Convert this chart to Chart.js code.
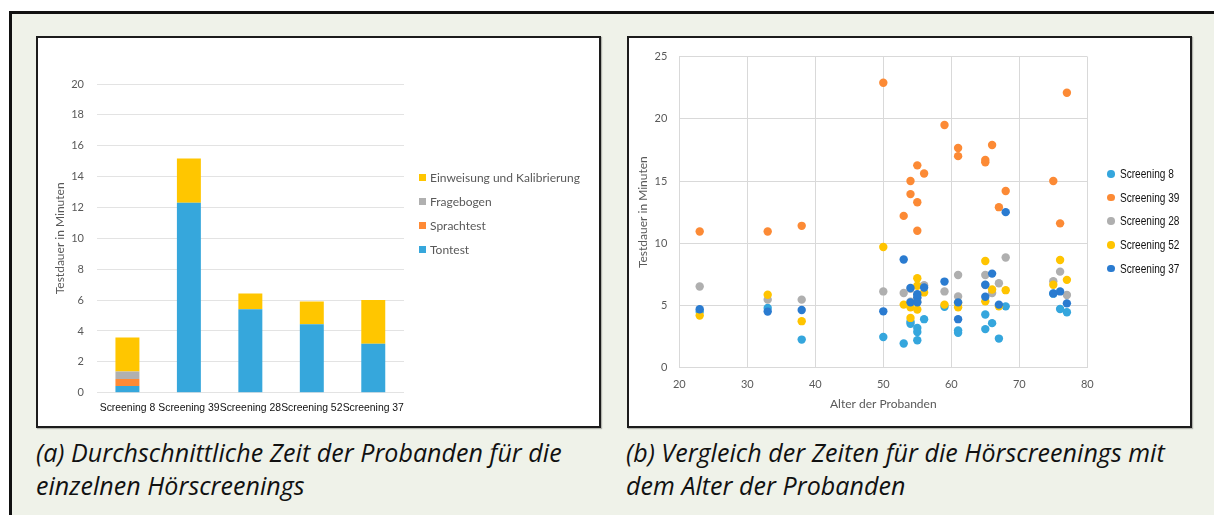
<!DOCTYPE html>
<html><head><meta charset="utf-8">
<script src="https://cdn.jsdelivr.net/npm/chart.js@4.4.0/dist/chart.umd.min.js"></script>
<style>
html,body{margin:0;padding:0;width:1214px;height:515px;overflow:hidden;background:#fff;}
#frame{position:absolute;left:9px;top:11px;width:1300px;height:600px;border:3px solid #111;background:#EFF2E9;box-sizing:border-box;}
.panel{position:absolute;background:#fff;border:2px solid #1c1c1c;box-sizing:border-box;box-shadow:1px 1px 1px rgba(0,0,0,0.25);}
#pa{left:36px;top:36px;width:565px;height:392px;}
#pb{left:627px;top:36px;width:565px;height:392px;}
canvas{position:absolute;left:0;top:0;}
.cap{position:absolute;font-family:"Open Sans",Lato,sans-serif;font-style:italic;font-size:25px;line-height:33px;color:#111;white-space:nowrap;letter-spacing:0.05px;}
#capa{left:36px;top:436px;}
#capb{left:626px;top:436px;}
#la{position:absolute;left:419px;top:165px;font:12px Lato,sans-serif;color:#595959;}
#la .lrow{height:24px;display:flex;align-items:center;white-space:nowrap;}
#la .mk{width:7px;height:7px;margin-right:4px;}
#lb{position:absolute;left:1107px;top:162px;font:12px "Liberation Sans",Arial,sans-serif;color:#111;}
#lb .lrow{height:23.7px;display:flex;align-items:center;white-space:nowrap;}
#lb .mk{width:7.6px;height:7.6px;border-radius:50%;margin-right:5.4px;flex:none;}
#lb .tx{display:inline-block;transform:scaleX(0.84);transform-origin:0 50%;}
</style></head>
<body>
<div id="frame"></div>
<div class="panel" id="pa"><canvas id="ca" width="561" height="388"></canvas></div>
<div class="panel" id="pb"><canvas id="cb" width="561" height="388"></canvas></div>
<div id="la"></div>
<div id="lb"></div>
<div class="cap" id="capa">(a) Durchschnittliche Zeit der Probanden für die<br>einzelnen Hörscreenings</div>
<div class="cap" id="capb">(b) Vergleich der Zeiten für die Hörscreenings mit<br>dem Alter der Probanden</div>
<script>
// ---- Panel (a): stacked bars ----
const categories = ['Screening 8', 'Screening 39', 'Screening 28', 'Screening 52', 'Screening 37'];
const tontest    = [0.44, 12.3, 5.41, 4.43, 3.17];
const sprachtest = [0.45, 0, 0, 0, 0];
const fragebogen = [0.48, 0, 0, 0, 0];
const einweisung = [2.2, 2.87, 1.02, 1.48, 2.83];
const barSeriesNames = ['Tontest', 'Sprachtest', 'Fragebogen', 'Einweisung und Kalibrierung'];

// ---- Panel (b): scatter, one value per subject (age) ----
const ages        = [23, 33, 38, 50, 53, 54, 54, 55, 55, 55, 56, 59, 61, 61, 65, 65, 66, 67, 68, 75, 76, 77];
const screening8  = [4.5, 4.8, 2.26, 2.47, 1.94, 3.53, 3.7, 3.2, 2.87, 2.2, 3.9, 4.9, 3.0, 2.8, 4.27, 3.1, 3.58, 2.34, 4.93, 5.95, 4.72, 4.46];
const screening39 = [10.95, 10.95, 11.4, 22.9, 12.2, 15.0, 13.95, 16.26, 13.3, 11.0, 15.6, 19.5, 17.66, 17.0, 16.7, 16.5, 17.9, 12.9, 14.2, 15.0, 11.6, 22.1];
const screening28 = [6.53, 5.47, 5.47, 6.13, 6.0, 6.35, 5.3, 5.85, 5.6, 5.3, 6.63, 6.13, 7.45, 5.73, 7.45, 6.65, 6.0, 6.79, 8.85, 6.95, 7.72, 5.84];
const screening52 = [4.2, 5.86, 3.74, 9.7, 5.07, 4.85, 4.0, 7.19, 6.58, 4.67, 6.05, 5.07, 4.85, 5.2, 8.57, 5.33, 6.28, 4.93, 6.23, 6.66, 8.65, 7.06];
const screening37 = [4.7, 4.51, 4.64, 4.53, 8.7, 6.4, 5.25, 5.9, 5.65, 5.25, 6.45, 6.92, 5.25, 3.9, 6.66, 5.7, 7.56, 5.07, 12.5, 5.97, 6.13, 5.17];
const scatterNames = ['Screening 8', 'Screening 39', 'Screening 28', 'Screening 52', 'Screening 37'];

const barColors = ['#36A7DC', '#FF8A35', '#B0B0B0', '#FFC600'];
const dotColors = ['#35A6DD', '#FC8A35', '#AFAFAF', '#FFC400', '#2A7BD0'];

Chart.defaults.font.family = 'Lato, "Open Sans", sans-serif';
Chart.defaults.color = '#595959';

const barData = [tontest, sprachtest, fragebogen, einweisung];
const chartA = new Chart(document.getElementById('ca'), {
  type: 'bar',
  data: {
    labels: categories,
    datasets: barData.map((d, i) => ({label: barSeriesNames[i], data: d, backgroundColor: barColors[i], borderWidth: 0}))
  },
  options: {
    responsive: false, animation: false,
    layout: {padding: {left: 0, right: 195, top: 46, bottom: 0}},
    plugins: {legend: {display: false}, tooltip: {enabled: false}},
    datasets: {bar: {categoryPercentage: 1, barPercentage: 0.39}},
    scales: {
      x: {stacked: true, grid: {display: false, drawTicks: false}, border: {display: false},
          ticks: {color: '#111', font: {family: '"Liberation Sans",Arial,sans-serif', size: 10.4}, padding: 9, maxRotation: 0, minRotation: 0, autoSkip: false},
          afterFit: s => { s.height = 33.3; }},
      y: {stacked: true, min: 0, max: 20,
          ticks: {stepSize: 2, color: '#595959', font: {size: 11}, padding: 12.7},
          grid: {color: '#E3E3E3', drawTicks: false}, border: {display: false},
          title: {display: true, text: 'Testdauer in Minuten', color: '#595959', font: {size: 12}, padding: {top: 14.8, bottom: 0}},
          afterFit: s => { s.width = 58.7; }}
    }
  }
});

const scatterData = [screening8, screening39, screening28, screening52, screening37];
const chartB = new Chart(document.getElementById('cb'), {
  type: 'scatter',
  data: {
    datasets: scatterData.map((arr, i) => ({
      label: scatterNames[i],
      data: ages.map((a, k) => ({x: a, y: arr[k]})),
      backgroundColor: dotColors[i], borderWidth: 0,
      pointRadius: 4.2, pointHoverRadius: 4.2,
      order: scatterData.length - i
    }))
  },
  options: {
    responsive: false, animation: false,
    layout: {padding: {left: 0, right: 102.7, top: 15.3, bottom: 0}},
    plugins: {legend: {display: false}, tooltip: {enabled: false}},
    scales: {
      x: {type: 'linear', min: 20, max: 80,
          ticks: {stepSize: 10, color: '#595959', font: {size: 11}, padding: 10},
          grid: {color: '#D9D9D9', drawTicks: false}, border: {color: '#D9D9D9'},
          title: {display: true, text: 'Alter der Probanden', color: '#595959', font: {size: 12}, padding: {top: 0, bottom: 14.3}},
          afterFit: s => { s.height = 58.3; }},
      y: {min: 0, max: 25,
          ticks: {stepSize: 5, color: '#595959', font: {size: 11}, padding: 12},
          grid: {color: '#D9D9D9', drawTicks: false}, border: {color: '#D9D9D9'},
          title: {display: true, text: 'Testdauer in Minuten', color: '#595959', font: {size: 12}, padding: {top: 7, bottom: 0}},
          afterFit: s => { s.width = 50.3; }}
    }
  }
});

// HTML legends built from the charts' datasets
function buildLegend(el, chart, reverse) {
  const ds = chart.data.datasets.slice();
  if (reverse) ds.reverse();
  ds.forEach(d => {
    const row = document.createElement('div'); row.className = 'lrow';
    const mk = document.createElement('span'); mk.className = 'mk'; mk.style.background = d.backgroundColor;
    const tx = document.createElement('span'); tx.className = 'tx'; tx.textContent = d.label;
    row.appendChild(mk); row.appendChild(tx); el.appendChild(row);
  });
}
buildLegend(document.getElementById('la'), chartA, true);
buildLegend(document.getElementById('lb'), chartB, false);
</script>
</body></html>
